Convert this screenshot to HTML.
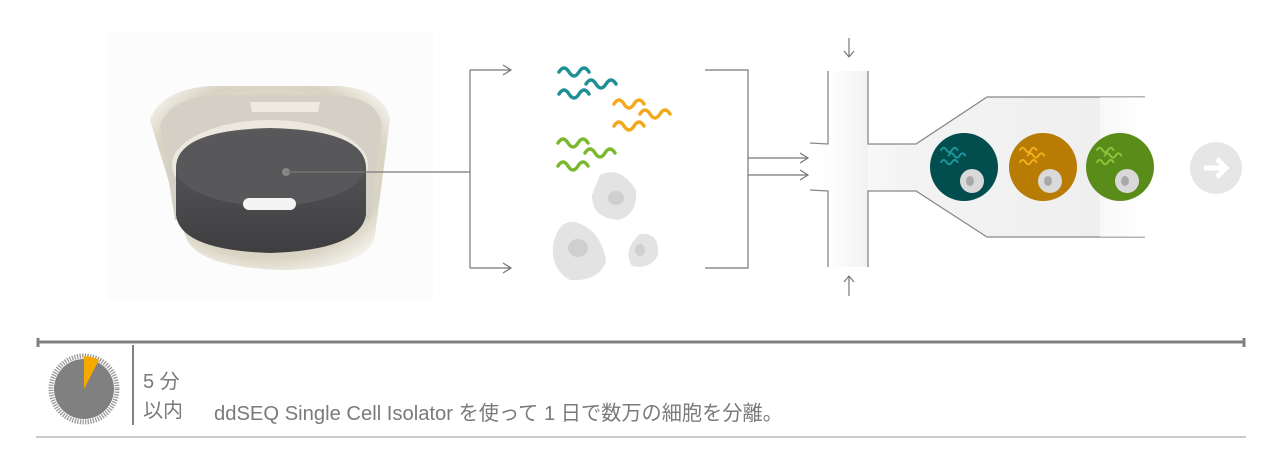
<!DOCTYPE html>
<html><head><meta charset="utf-8"><style>
html,body{margin:0;padding:0;background:#fff;}
body{width:1282px;height:471px;position:relative;overflow:hidden;font-family:"Liberation Sans","Noto Sans CJK JP",sans-serif;}
.t{position:absolute;color:#7a7a7a;white-space:nowrap;}
</style></head><body>
<svg width="1282" height="471" style="position:absolute;left:0;top:0">
<defs>
<linearGradient id="ch" x1="0" x2="1"><stop offset="0" stop-color="#fff"/><stop offset="0.3" stop-color="#f3f3f3"/><stop offset="0.85" stop-color="#efefef"/><stop offset="1" stop-color="#fff"/></linearGradient>
<linearGradient id="vch" x1="0" x2="1"><stop offset="0" stop-color="#fff"/><stop offset="1" stop-color="#eee"/></linearGradient>
<radialGradient id="body" cx="0.5" cy="0.45" r="0.6"><stop offset="0" stop-color="#e8e4d8"/><stop offset="0.8" stop-color="#d8d3c2"/><stop offset="1" stop-color="#f4f2ec"/></radialGradient>
<linearGradient id="disc" x1="0" y1="0" x2="0" y2="1"><stop offset="0" stop-color="#5c5c5e"/><stop offset="1" stop-color="#3e3e40"/></linearGradient>
<g id="w"><path d="M0 0 q5 -8 10 0 t10 0 t10 0" fill="none" stroke-width="3.5" stroke-linecap="round"/></g>
</defs>
<rect x="108" y="32" width="325" height="268" fill="#fcfcfc"/>
<path d="M150 120 Q160 90 210 86 L340 86 Q385 90 390 120 L375 235 Q370 268 285 270 Q195 268 185 235 Z" fill="url(#body)"/>
<path d="M160 125 Q170 98 215 95 L335 95 Q378 98 382 125 L370 220 Q290 200 175 220 Z" fill="#d4d0c6"/>
<path d="M250 102 L320 102 L318 112 L252 112Z" fill="#eeeae0"/>
<ellipse cx="270" cy="165" rx="98" ry="45" fill="#ece8de"/>
<path d="M176 168 Q176 130 270 128 Q366 130 366 168 L366 215 Q360 250 270 253 Q180 250 176 215 Z" fill="url(#disc)"/>
<ellipse cx="270" cy="168" rx="94" ry="38" fill="#58585a"/>
<rect x="243" y="198" width="53" height="12" rx="6" fill="#f4f4f4"/>
<circle cx="286" cy="172" r="4" fill="#888"/>
<g stroke="#777" stroke-width="1.2" fill="none">
<path d="M286 172 H470 M470 70 V268 M470 70 H510 M470 268 H510"/>
<path d="M503 65 L511 70 L503 75 M503 263 L511 268 L503 273"/>
<path d="M705 70 H748 V268 H705 M748 158 H808 M748 175 H808"/>
<path d="M800 153 L808 158 L800 163 M800 170 L808 175 L800 180"/>
<path d="M849 38 V57 M844 51 L849 57 L854 51 M849 276 V296 M844 282 L849 276 L854 282"/>
</g>
<g stroke="#1f8f96"><use href="#w" x="559" y="72"/><use href="#w" x="586" y="84"/><use href="#w" x="559" y="94"/></g>
<g stroke="#f4a81c"><use href="#w" x="614" y="104"/><use href="#w" x="640" y="114"/><use href="#w" x="614" y="126"/></g>
<g stroke="#7ab82e"><use href="#w" x="558" y="143"/><use href="#w" x="585" y="153"/><use href="#w" x="558" y="166"/></g>
<path d="M600 175 Q620 165 636 190 Q638 215 618 220 Q592 218 592 195 Z" fill="#e3e3e3"/><ellipse cx="616" cy="198" rx="8" ry="7" fill="#cfcfcf"/>
<path d="M575 222 Q602 230 606 262 Q598 282 570 280 Q551 270 553 245 Q558 220 575 222Z" fill="#e3e3e3"/><ellipse cx="578" cy="248" rx="10" ry="9" fill="#cfcfcf"/>
<path d="M640 234 Q660 232 658 255 Q650 270 632 266 Q622 250 640 234Z" fill="#e3e3e3"/><ellipse cx="640" cy="250" rx="5" ry="6" fill="#cfcfcf"/>
<path d="M828 71 H868 V144 H916 L987 97 H1145 V237 H987 L916 191 H868 V267 H828 V191 L810 190 V144 L828 144 Z" fill="url(#ch)"/>
<rect x="828" y="71" width="40" height="196" fill="url(#vch)" opacity="0.6"/>
<g stroke="#888" stroke-width="1.3" fill="none">
<path d="M828 71 V144 L810 143 M828 267 V191 L810 190"/>
<path d="M868 71 V144 H916 L987 97 H1145 M868 267 V191 H916 L987 237 H1145"/>
</g>
<rect x="1100" y="97" width="46" height="140" fill="#fff" opacity="0.5"/>
<circle cx="964" cy="167" r="34" fill="#024d4e"/>
<circle cx="1043" cy="167" r="34" fill="#b87c04"/>
<circle cx="1120" cy="167" r="34" fill="#5a8c1a"/>
<g stroke="#1a98a0" transform="translate(941,150) scale(0.55)"><use href="#w" x="0" y="0"/><use href="#w" x="14" y="10"/><use href="#w" x="0" y="22"/></g>
<g stroke="#f4b01c" transform="translate(1020,150) scale(0.55)"><use href="#w" x="0" y="0"/><use href="#w" x="14" y="10"/><use href="#w" x="0" y="22"/></g>
<g stroke="#8cc63a" transform="translate(1097,150) scale(0.55)"><use href="#w" x="0" y="0"/><use href="#w" x="14" y="10"/><use href="#w" x="0" y="22"/></g>
<g fill="#d9d9d9"><ellipse cx="972" cy="181" rx="12" ry="12"/><ellipse cx="1050" cy="181" rx="12" ry="12"/><ellipse cx="1127" cy="181" rx="12" ry="12"/></g>
<g fill="#a9a9a9"><ellipse cx="970" cy="181" rx="4" ry="5"/><ellipse cx="1048" cy="181" rx="4" ry="5"/><ellipse cx="1125" cy="181" rx="4" ry="5"/></g>
<circle cx="1216" cy="168" r="26" fill="#e6e6e6"/>
<path d="M1204 168 H1226 M1217 159 L1226 168 L1217 177" stroke="#fff" stroke-width="5" fill="none"/>
<path d="M38 342 H1244 M38 338 V347 M1244 338 V347" stroke="#808080" stroke-width="3" fill="none"/>
<path d="M133 345 V425" stroke="#808080" stroke-width="2"/>
<path d="M36 437 H1246" stroke="#999" stroke-width="1"/>
<circle cx="84" cy="389" r="33" fill="none" stroke="#999" stroke-width="5" stroke-dasharray="1.3 1.3"/>
<circle cx="84" cy="389" r="30" fill="#808080"/>
<path d="M84 389 V356 A33 33 0 0 1 99 360 Z" fill="#f5a800"/>
</svg>
<div class="t" style="left:143px;top:365px;font-size:20px;">5 分</div>
<div class="t" style="left:143px;top:394px;font-size:20px;">以内</div>
<div class="t" style="left:214px;top:397px;font-size:20.2px;">ddSEQ Single Cell Isolator を使って 1 日で数万の細胞を分離。</div>
</body></html>
